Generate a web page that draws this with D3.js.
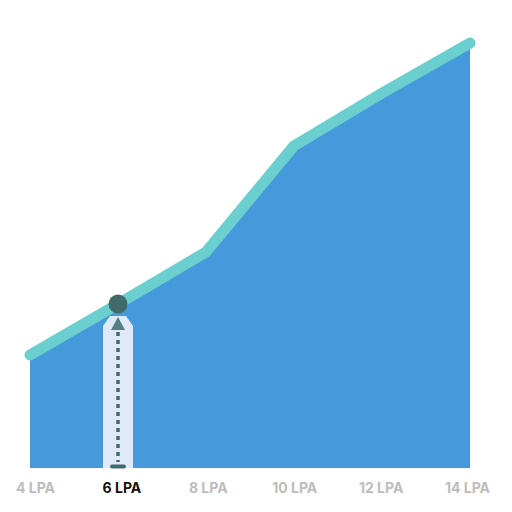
<!DOCTYPE html>
<html>
<head>
<meta charset="utf-8">
<script src="https://cdn.jsdelivr.net/npm/d3@7"></script>
<style>
  body { margin: 0; background: #fff; }
  .tick text { font-family: Inter, "Open Sans", sans-serif; font-weight: 700; }
</style>
</head>
<body>
<svg width="512" height="512"></svg>
<script>
var categories = ['4 LPA', '6 LPA', '8 LPA', '10 LPA', '12 LPA', '14 LPA'];
var values = [26.6, 38.6, 50.8, 75.8, 88.2, 100];
var activeLabel = '6 LPA';

var svg = d3.select('svg');
var baseY = 468;

var x = d3.scalePoint().domain(categories).range([30, 470]);
var xLabel = d3.scalePoint().domain(categories).range([35, 467]);
var y = d3.scaleLinear().domain([0, 100]).range([baseY, 43]);

var data = categories.map(function (c, i) {
    return { label: c, value: values[i] };
});

// filled area
var area = d3.area()
    .x(function (d) { return x(d.label); })
    .y0(y(0))
    .y1(function (d) { return y(d.value); });

svg.append('path')
    .datum(data)
    .attr('d', area)
    .attr('fill', '#4699db');

// highlight band for the active point
var ax = x(activeLabel);
var ay = y(values[categories.indexOf(activeLabel)]);
var hw = 15;
svg.append('path')
    .attr('d', 'M' + (ax - hw) + ',' + y(0) +
        'L' + (ax - hw) + ',' + (ay + 22) +
        'L' + (ax - 8) + ',' + (ay + 12) +
        'L' + (ax + 8) + ',' + (ay + 12) +
        'L' + (ax + hw) + ',' + (ay + 22) +
        'L' + (ax + hw) + ',' + y(0) + 'Z')
    .attr('fill', '#e0e9f8');

// dotted guide and arrow
svg.append('line')
    .attr('x1', ax).attr('x2', ax)
    .attr('y1', ay + 28).attr('y2', y(0) - 6)
    .attr('stroke', '#3f6b6c')
    .attr('stroke-width', 3.5)
    .attr('stroke-dasharray', '4,4');

svg.append('path')
    .attr('d', 'M' + ax + ',' + (ay + 13) + 'L' + (ax + 7) + ',' + (ay + 26) + 'L' + (ax - 7) + ',' + (ay + 26) + 'Z')
    .attr('fill', '#557f80');

svg.append('line')
    .attr('x1', ax - 6).attr('x2', ax + 6)
    .attr('y1', y(0) - 1.5).attr('y2', y(0) - 1.5)
    .attr('stroke', '#3f6b6c')
    .attr('stroke-width', 4)
    .attr('stroke-linecap', 'round');

// top line
var line = d3.line()
    .x(function (d) { return x(d.label); })
    .y(function (d) { return y(d.value); });

svg.append('path')
    .datum(data)
    .attr('d', line)
    .attr('fill', 'none')
    .attr('stroke', '#6bcfcf')
    .attr('stroke-width', 11)
    .attr('stroke-linecap', 'round')
    .attr('stroke-linejoin', 'round');

svg.append('circle')
    .attr('cx', ax)
    .attr('cy', ay)
    .attr('r', 9.5)
    .attr('fill', '#416b6b');

// x axis labels
var axis = svg.append('g')
    .attr('transform', 'translate(0,' + (baseY + 15) + ')')
    .call(d3.axisBottom(xLabel).tickSize(0).tickPadding(0));
axis.select('.domain').remove();
axis.selectAll('.tick text')
    .attr('font-size', 14)
    .attr('dy', '0.71em')
    .attr('fill', function (d) { return d === activeLabel ? '#111' : '#bdbdbd'; });
</script>
</body>
</html>
